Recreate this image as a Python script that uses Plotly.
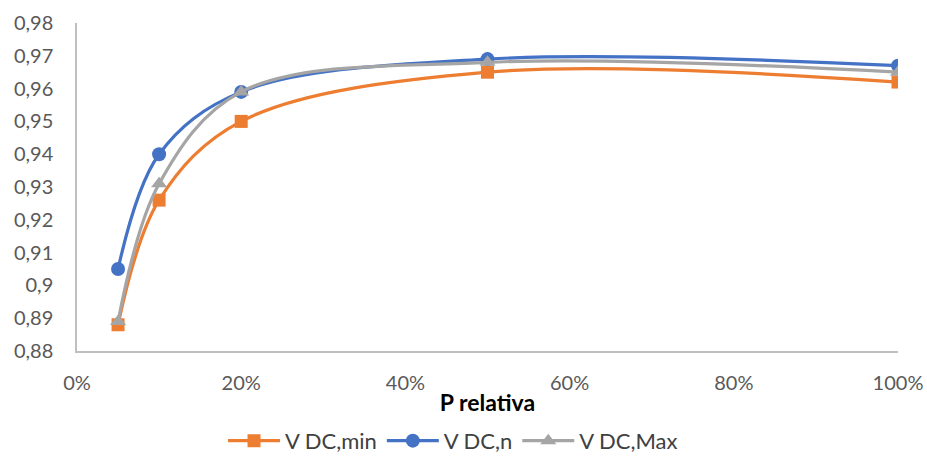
import plotly.graph_objects as go

x_vals = [0.05, 0.10, 0.20, 0.50, 1.00]
v_min = [0.888, 0.926, 0.950, 0.965, 0.962]
v_n = [0.905, 0.940, 0.959, 0.969, 0.967]
v_max = [0.889, 0.931, 0.959, 0.968, 0.965]

series = [
    ("V DC,min", v_min, "#ED7D31", "square", 13),
    ("V DC,n", v_n, "#4472C4", "circle", 14),
    ("V DC,Max", v_max, "#A5A5A5", "triangle-up", 14),
]

fig = go.Figure()
for name, ys, color, sym, sz in series:
    fig.add_trace(go.Scatter(
        x=x_vals, y=ys, name=name, mode="lines+markers",
        line=dict(color=color, width=3.2, shape="spline", smoothing=1),
        marker=dict(symbol=sym, size=sz, color=color),
    ))

fig.update_layout(
    width=927, height=459,
    margin=dict(l=77, r=29, t=23, b=108, autoexpand=False),
    paper_bgcolor="white", plot_bgcolor="white",
    font=dict(family="Lato, Carlito, sans-serif", size=20, color="#595959"),
    separators=", ",
    showlegend=True,
    legend=dict(orientation="h", x=0.458, xanchor="center", y=-0.274, yanchor="middle",
                font=dict(size=22, color="#404040"), itemwidth=52),
    xaxis=dict(
        range=[0, 1], tickvals=[0, 0.2, 0.4, 0.6, 0.8, 1.0], tickformat=".0%",
        showgrid=False, zeroline=False, showline=True, linecolor="#BFBFBF", linewidth=1.5,
        ticks="", ticklabelstandoff=13,
        title=dict(text="<b>P relativa</b>", font=dict(size=23, color="#000000"), standoff=2),
    ),
    yaxis=dict(
        range=[0.88, 0.98], dtick=0.01, tickformat=".2~f",
        showgrid=False, zeroline=False, showline=True, linecolor="#BFBFBF", linewidth=1.5,
        ticks="", ticklabelstandoff=18,
    ),
)

fig.write_html("out.html")
